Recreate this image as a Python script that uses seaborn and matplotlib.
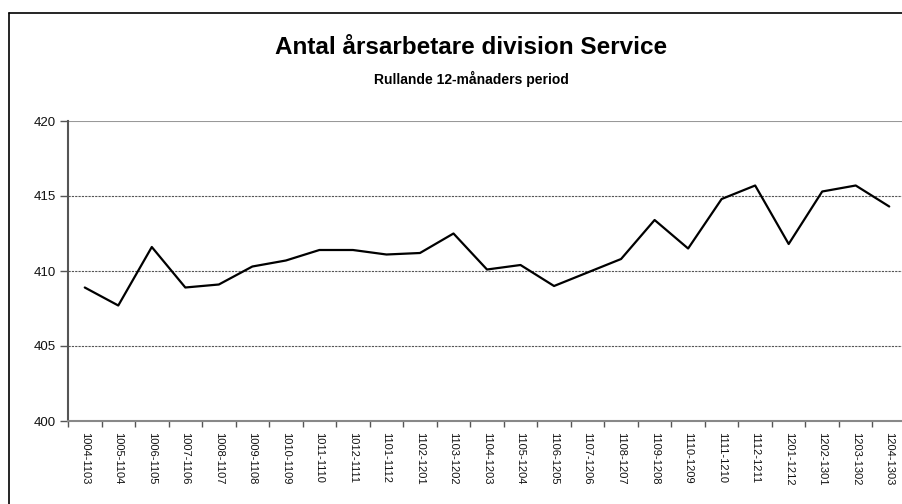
import matplotlib
matplotlib.use("Agg")
import matplotlib.pyplot as plt
from matplotlib.lines import Line2D
import seaborn as sns
import pandas as pd

# rolling 12-month periods (YYMM-YYMM)
periods = ["1004-1103", "1005-1104", "1006-1105", "1007-1106", "1008-1107",
           "1009-1108", "1010-1109", "1011-1110", "1012-1111", "1101-1112",
           "1102-1201", "1103-1202", "1104-1203", "1105-1204", "1106-1205",
           "1107-1206", "1108-1207", "1109-1208", "1110-1209", "1111-1210",
           "1112-1211", "1201-1212", "1202-1301", "1203-1302", "1204-1303"]
arsarbetare = [408.9, 407.7, 411.6, 408.9, 409.1,
               410.3, 410.7, 411.4, 411.4, 411.1,
               411.2, 412.5, 410.1, 410.4, 409.0,
               409.9, 410.8, 413.4, 411.5, 414.8,
               415.7, 411.8, 415.3, 415.7, 414.3]
y_ticks = [400, 405, 410, 415, 420]

title = "Antal årsarbetare division Service"
subtitle = "Rullande 12-månaders period"

df = pd.DataFrame({"Period": periods, "Antal": arsarbetare})

sns.set_theme(style="white")
plt.rcParams["font.family"] = ["Liberation Sans", "DejaVu Sans"]
plt.rcParams["text.color"] = "black"

fig = plt.figure(figsize=(9.03, 5.04), dpi=100)
W, H = 903, 504
# plot area in pixels: left 68, right 906 (just past the edge), top 121, bottom 421
ax = fig.add_axes([68 / W, 1 - 421 / H, (906 - 68) / W, 300 / H])

sns.lineplot(data=df, x="Period", y="Antal", sort=False, color="black",
             linewidth=1.6, ax=ax)

ax.set_xlim(-0.5, len(periods) - 0.5)
ax.set_ylim(400, 420)
ax.set_yticks(y_ticks)
ax.set_yticklabels([str(v) for v in y_ticks], fontsize=9.5, color="#111111")
ax.set_xticks(range(len(periods)))
ax.set_xticklabels(periods, rotation=-90, fontsize=8, color="#111111")
ax.set_xticks([i - 0.5 for i in range(len(periods) + 1)], minor=True)
ax.tick_params(axis="x", which="major", length=0, pad=8)
ax.tick_params(axis="x", which="minor", length=4, width=1, color="#555555", direction="out", bottom=True)
ax.tick_params(axis="y", length=6, width=1, color="#555555", direction="out", left=True, pad=3)
ax.set_xlabel("")
ax.set_ylabel("")

# dotted gridlines
for v in y_ticks[1:-1]:
    ax.axhline(v, color="#555555", linestyle=(0, (2, 1)), linewidth=0.8, zorder=0)
ax.axhline(420, color="#999999", linewidth=1.5, zorder=0)

for side in ["top", "right"]:
    ax.spines[side].set_visible(False)
ax.spines["left"].set_color("#555555")
ax.spines["left"].set_linewidth(1.5)
ax.spines["bottom"].set_color("#888888")
ax.spines["bottom"].set_linewidth(1.5)

# titles
fig.text(471 / W, 1 - 48 / H, title, ha="center", va="center",
         fontsize=17.5, fontweight="bold", color="black")
fig.text(471 / W, 1 - 79 / H, subtitle, ha="center", va="center",
         fontsize=10, fontweight="bold", color="black")

# chart border (cropped on right and bottom)
fig.add_artist(Line2D([9.5 / W, 9.5 / W], [0, 1 - 12.7 / H], transform=fig.transFigure,
                      color="black", linewidth=1.2))
fig.add_artist(Line2D([9.5 / W, 1], [1 - 12.7 / H, 1 - 12.7 / H], transform=fig.transFigure,
                      color="black", linewidth=1.2))

fig.savefig("out.png", dpi=100)
